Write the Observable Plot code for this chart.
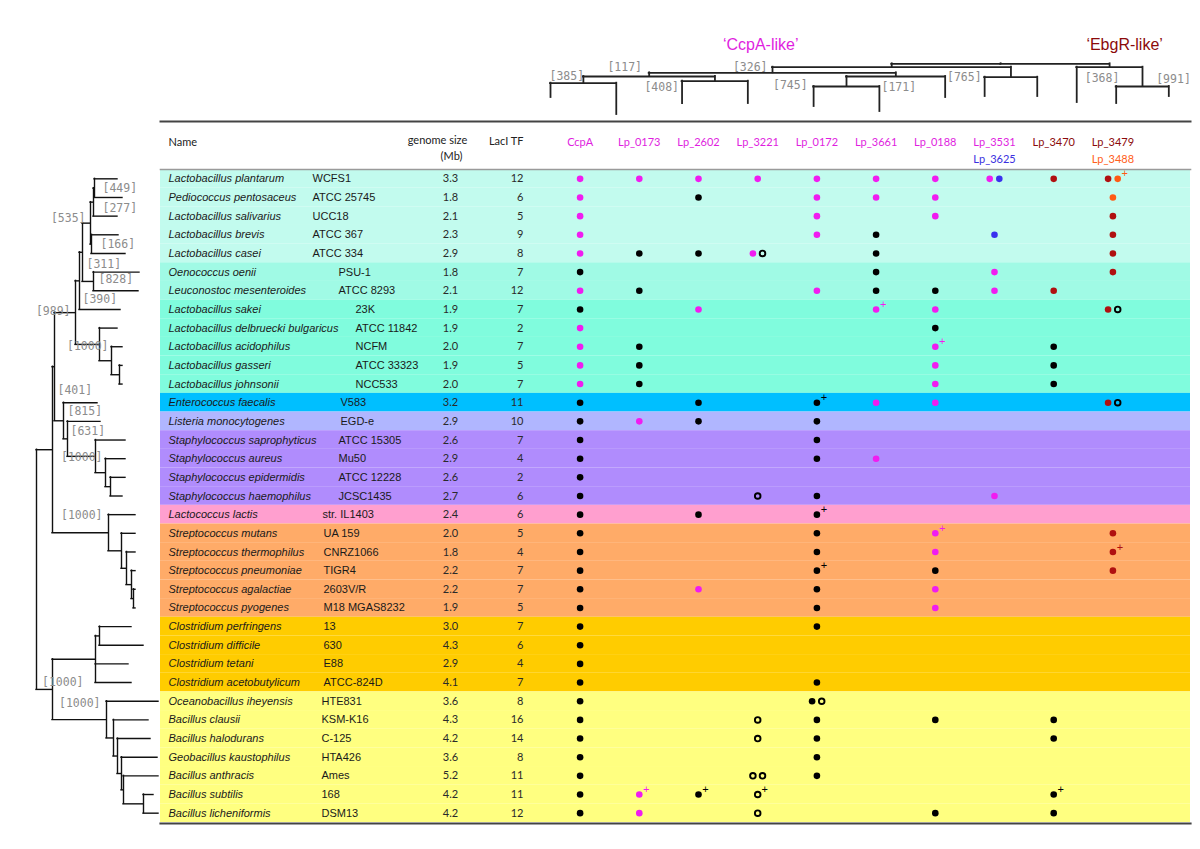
<!DOCTYPE html>
<html>
<head>
<meta charset="utf-8">
<script src="https://cdn.jsdelivr.net/npm/d3@7"></script>
<script src="https://cdn.jsdelivr.net/npm/@observablehq/plot@0.6"></script>
<style>
html, body { margin: 0; padding: 0; background: #ffffff; }
#chart { position: relative; width: 1200px; height: 849px; overflow: hidden; background: #fff; }
#chart svg { position: absolute; left: 0; top: 0; overflow: visible; }
</style>
</head>
<body>
<div id="chart"></div>
<script>
// ---------------- DATA ----------------
const species = [
  "Lactobacillus plantarum", "Pediococcus pentosaceus", "Lactobacillus salivarius", "Lactobacillus brevis",
  "Lactobacillus casei", "Oenococcus oenii", "Leuconostoc mesenteroides", "Lactobacillus sakei",
  "Lactobacillus delbruecki bulgaricus", "Lactobacillus acidophilus", "Lactobacillus gasseri", "Lactobacillus johnsonii",
  "Enterococcus faecalis", "Listeria monocytogenes", "Staphylococcus saprophyticus", "Staphylococcus aureus",
  "Staphylococcus epidermidis", "Staphylococcus haemophilus", "Lactococcus lactis", "Streptococcus mutans",
  "Streptococcus thermophilus", "Streptococcus pneumoniae", "Streptococcus agalactiae", "Streptococcus pyogenes",
  "Clostridium perfringens", "Clostridium difficile", "Clostridium tetani", "Clostridium acetobutylicum",
  "Oceanobacillus iheyensis", "Bacillus clausii", "Bacillus halodurans", "Geobacillus kaustophilus",
  "Bacillus anthracis", "Bacillus subtilis", "Bacillus licheniformis"
];
const strains = [
  "WCFS1", "ATCC 25745", "UCC18", "ATCC 367", "ATCC 334", "PSU-1", "ATCC 8293", "23K",
  "ATCC 11842", "NCFM", "ATCC 33323", "NCC533", "V583", "EGD-e", "ATCC 15305", "Mu50",
  "ATCC 12228", "JCSC1435", "str. IL1403", "UA 159", "CNRZ1066", "TIGR4", "2603V/R", "M18 MGAS8232",
  "13", "630", "E88", "ATCC-824D", "HTE831", "KSM-K16", "C-125", "HTA426", "Ames", "168", "DSM13"
];
const genomeSize = [3.3, 1.8, 2.1, 2.3, 2.9, 1.8, 2.1, 1.9, 1.9, 2.0, 1.9, 2.0, 3.2, 2.9, 2.6, 2.9, 2.6, 2.7,
  2.4, 2.0, 1.8, 2.2, 2.2, 1.9, 3.0, 4.3, 2.9, 4.1, 3.6, 4.3, 4.2, 3.6, 5.2, 4.2, 4.2];
const laciTF = [12, 6, 5, 9, 8, 7, 12, 7, 2, 7, 5, 7, 11, 10, 7, 4, 2, 6, 6, 5, 4, 7, 7, 5, 7, 6, 4, 7,
  8, 16, 14, 8, 11, 11, 12];
// consecutive row groups (name, number of rows)
const groupNames = ["Lactobacillaceae I", "Leuconostocaceae", "Lactobacillaceae II", "Enterococcus", "Listeria",
  "Staphylococcus", "Lactococcus", "Streptococcus", "Clostridium", "Bacillus"];
const groupSizes = [5, 2, 5, 1, 1, 4, 1, 5, 4, 7];

const columns = ["CcpA", "Lp_0173", "Lp_2602", "Lp_3221", "Lp_0172", "Lp_3661", "Lp_0188", "Lp_3531", "Lp_3470", "Lp_3479"];
const columnClass = ["CcpA-like", "CcpA-like", "CcpA-like", "CcpA-like", "CcpA-like", "CcpA-like", "CcpA-like",
  "CcpA-like", "EbgR-like", "EbgR-like"];
const paralogColumns = ["Lp_3531", "Lp_3479"];
const paralogNames = ["Lp_3625", "Lp_3488"];

// cells per row, "|" separated in column order.
// m = magenta, k = black, o = open circle, b = blue (Lp_3625), r = dark red, n = orange (Lp_3488); "+" = plus sign
const calls = [
  "m|m|m|m|m|m|m|mb|r|rn+",
  "m||k||m|m|m|||n",
  "m||||m||m|||r",
  "m||||m|k||b||r",
  "m|k|k|mo||k||||r",
  "k|||||k||m||r",
  "m|k|||m|k|k|m|r|",
  "k||m|||m+|m|||ro",
  "m||||||k|||",
  "m|k|||||m+||k|",
  "m|k|||||m||k|",
  "m|k|||||m||k|",
  "k||k||k+|m|m|||ro",
  "k|m|k||k|||||",
  "k||||k|||||",
  "k||||k|m||||",
  "k|||||||||",
  "k|||o|k|||m||",
  "k||k||k+|||||",
  "k||||k||m+|||r",
  "k||||k||m|||r+",
  "k||||k+||k|||r",
  "k||m||k||m|||",
  "k||||k||m|||",
  "k||||k|||||",
  "k|||||||||",
  "k|||||||||",
  "k||||k|||||",
  "k||||ko|||||",
  "k|||o|k||k||k|",
  "k|||o|k||||k|",
  "k||||k|||||",
  "k|||oo|k|||||",
  "k|m+|k+|o+|||||k+|",
  "k|m||o|||k||k|"
];

// species tree (branch lengths, bootstrap support as node names)
const speciesTree = "(((((((((Lactobacillus_plantarum:23,Pediococcus_pentosaceus:28)449:1,Lactobacillus_salivarius:24)277:3," +
  "(Lactobacillus_brevis:27,Lactobacillus_casei:34)166:1)535:8,(Oenococcus_oenii:46,Leuconostoc_mesenteroides:45)828:11)311:3," +
  "Lactobacillus_sakei:41)390:4,(Lactobacillus_delbruecki_bulgaricus:18,(Lactobacillus_acidophilus:11," +
  "(Lactobacillus_gasseri:3,Lactobacillus_johnsonii:3):8):12)1000:24)989:21," +
  "(Enterococcus_faecalis:34,(Listeria_monocytogenes:33,(Staphylococcus_saprophyticus:30,(Staphylococcus_aureus:20," +
  "(Staphylococcus_epidermidis:15,Staphylococcus_haemophilus:12):5):10)1000:28)631:4)815:9)401:2," +
  "(Lactococcus_lactis:27,(Streptococcus_mutans:14,(Streptococcus_thermophilus:9,(Streptococcus_pneumoniae:4," +
  "(Streptococcus_agalactiae:2,Streptococcus_pyogenes:2):2):5):5):13)1000:56):16," +
  "(((Clostridium_perfringens:32,Clostridium_difficile:44):4,Clostridium_tetani:33,Clostridium_acetobutylicum:36):43," +
  "(Oceanobacillus_iheyensis:52,(Bacillus_clausii:35,(Bacillus_halodurans:33,(Geobacillus_kaustophilus:36," +
  "(Bacillus_anthracis:35,(Bacillus_subtilis:10,Bacillus_licheniformis:15):20):2):4):4):7)1000:54)1000:16);";

// LacI-TF tree
const tfTree = "((((((CcpA:14.3,Lp_0173:31.3)385:6.7,(Lp_2602:22.3,Lp_3221:22.3)408:4.7)117:3.7," +
  "((Lp_0172:20,Lp_3661:25)745:10,Lp_0188:21)171:3.7):5.6,(Lp_3531:19.3,Lp_3625:19.3)765:10)326:3.4," +
  "(Lp_3470:35.3,(Lp_3479:17,Lp_3488:10)991:19.3)368:3.4);";

// ---------------- STYLE ----------------
const groupStyle = {
  "Lactobacillaceae I":  {fill: "#c2fbee", strainDx: 152},
  "Leuconostocaceae":    {fill: "#a0fae5", strainDx: 178},
  "Lactobacillaceae II": {fill: "#80fcdd", strainDx: 195},
  "Enterococcus":        {fill: "#00bfff", strainDx: 180},
  "Listeria":            {fill: "#b0b6ff", strainDx: 180},
  "Staphylococcus":      {fill: "#b08cfd", strainDx: 178},
  "Lactococcus":         {fill: "#ff9fcf", strainDx: 162},
  "Streptococcus":       {fill: "#ffab68", strainDx: 163},
  "Clostridium":         {fill: "#ffcc00", strainDx: 163},
  "Bacillus":            {fill: "#ffff80", strainDx: 161}
};
const symColor = {m: "#f01cf0", k: "#000000", o: "#000000", b: "#3a30ee", r: "#b01010", n: "#ff5a14"};
const classColor = {"CcpA-like": "#e01ee0", "EbgR-like": "#8b0a0a"};
const paralogColor = {"Lp_3625": "#3a30e0", "Lp_3488": "#ff6020"};
const sans = "'Liberation Sans', Arial, sans-serif";
const narrow = "Lato, 'Open Sans', sans-serif";
const mono = "'DejaVu Sans Mono', monospace";
const bootColor = "#8c8c8c";

// ---------------- BUILD ----------------
const groupOf = groupNames.flatMap((g, i) => Array(groupSizes[i]).fill(g));
const rows = species.map((s, i) => ({species: s, strain: strains[i], size: genomeSize[i], laci: laciTF[i], group: groupOf[i]}));

const symbols = [];
calls.forEach((line, ri) => {
  line.split("|").forEach((cell, ci) => {
    const plus = cell.endsWith("+");
    const syms = cell.replace("+", "").split("").filter(Boolean);
    syms.forEach((s, k) => symbols.push({species: species[ri], col: columns[ci], sym: s, k, n: syms.length, plus: plus && k === syms.length - 1}));
  });
});

function parseNewick(s) {
  let i = 0;
  function node() {
    const n = {children: []};
    if (s[i] === "(") {
      i++;
      n.children.push(node());
      while (s[i] === ",") { i++; n.children.push(node()); }
      i++;
    }
    let name = "";
    while (i < s.length && !":,);".includes(s[i])) name += s[i++];
    n.name = name;
    n.length = 0;
    if (s[i] === ":") {
      i++;
      let len = "";
      while (i < s.length && !",);".includes(s[i])) len += s[i++];
      n.length = +len;
    }
    return n;
  }
  return node();
}

// species tree layout
const sRoot = d3.hierarchy(parseNewick(speciesTree.replace(";", "")), d => d.children.length ? d.children : null);
sRoot.eachBefore(d => { d.depthLen = d.parent ? d.parent.depthLen + d.data.length : 0; });
sRoot.eachAfter(d => {
  if (!d.children) d.yPos = species.indexOf(d.data.name.replace(/_/g, " "));
  else d.yPos = (d.children[0].yPos + d.children[d.children.length - 1].yPos) / 2;
});
const sH = [], sV = [], sLabels = [];
sRoot.eachBefore(d => {
  if (d.parent) sH.push({x1: d.parent.depthLen, x2: d.depthLen, y: d.yPos});
  if (d.children) {
    sV.push({x: d.depthLen, y1: d.children[0].yPos, y2: d.children[d.children.length - 1].yPos});
    if (d.data.name) sLabels.push({x: d.depthLen, y: d.yPos, label: `[${d.data.name}]`});
  }
});
const maxS = d3.max(sRoot.leaves(), d => d.depthLen);
// label placement (preorder) : anchor, dx, dy
const sLabelPlace = [
  ["start", 3, 24], ["end", -5, -1], ["start", 3, 18], ["start", 4, 12], ["end", -5, -5],
  ["start", 9, 6], ["start", 8, 0], ["start", 9, 0], ["start", 5, -2], ["end", 9, 2],
  ["start", 4, -9], ["start", 3, -8], ["end", 7, 1], ["end", -6, -17], ["end", 31, -7], ["end", -6, -16]
];

// TF tree layout
const tRoot = d3.hierarchy(parseNewick(tfTree.replace(";", "")), d => d.children.length ? d.children : null);
const sideOffset = 0.4;
function leafIndex(name) {
  const pi = paralogNames.indexOf(name);
  if (pi >= 0) return columns.indexOf(paralogColumns[pi]) + sideOffset;
  const ci = columns.indexOf(name);
  return paralogColumns.includes(name) ? ci - sideOffset : ci;
}
tRoot.eachBefore(d => { d.depthLen = d.parent ? d.parent.depthLen + d.data.length : 0; });
tRoot.eachAfter(d => {
  if (!d.children) d.xPos = leafIndex(d.data.name);
  else d.xPos = (d.children[0].xPos + d.children[d.children.length - 1].xPos) / 2;
});
const tH = [], tV = [], tLabels = [];
tRoot.eachBefore(d => {
  if (d.parent) tV.push({x: d.xPos, y1: d.parent.depthLen, y2: d.depthLen});
  if (d.children) {
    const x1 = d.children[0].xPos, x2 = d.children[d.children.length - 1].xPos;
    tH.push({x1, x2, y: d.depthLen});
    if (d.data.name) tLabels.push({x: x1, y: d.depthLen, label: `[${d.data.name}]`});
  }
});
const maxT = d3.max(tRoot.leaves(), d => d.depthLen);
const tLabelPlace = [
  ["end", -5, 0], ["start", 24, -9], ["start", -1, -7], ["end", -3, 6], ["start", 35, 11],
  ["end", -6, -1], ["end", -3, 0], ["start", 8, 11], ["start", 40, -7]
];

// ---------------- GEOMETRY ----------------
const W = 1200, H = 849;
const tableTop = 169, tableBottom = 822, tableLeft = 160, tableRight = 1190;
const colRange = [550, 1142];
const bw = (tableBottom - tableTop) / species.length;

// ---------------- TABLE PLOT ----------------
const symCodes = Object.keys(symColor);
const tableMarks = [
  Plot.cell(rows, {y: "species", fill: "group"}),
  Plot.frame({anchor: "top", stroke: "#9a9a9a", strokeWidth: 1.6}),
  Plot.frame({anchor: "top", stroke: "#444", strokeWidth: 2, dy: -48}),
  Plot.frame({anchor: "bottom", stroke: "#444", strokeWidth: 2.2, dy: 1}),
  Plot.text(rows, {y: "species", text: "species", frameAnchor: "left", dx: 8, textAnchor: "start",
    fontStyle: "italic", fontFamily: sans, fontSize: 11, fill: "#1a1a1a"}),
  ...groupNames.map(g => Plot.text(rows.filter(r => r.group === g), {y: "species", text: "strain", frameAnchor: "left",
    dx: groupStyle[g].strainDx, textAnchor: "start", fontFamily: sans, fontSize: 11, fill: "#1a1a1a"})),
  Plot.text(rows, {y: "species", text: d => d.size.toFixed(1), frameAnchor: "left", dx: 290, textAnchor: "middle",
    fontFamily: narrow, fontSize: 11, fill: "#2a2a2a"}),
  Plot.text(rows, {y: "species", text: "laci", frameAnchor: "left", dx: 363, textAnchor: "end",
    fontFamily: narrow, fontSize: 11, fill: "#2a2a2a"}),
  // headers
  Plot.text(["Name"], {frameAnchor: "top-left", dx: 8, dy: -31, textAnchor: "start", fontFamily: narrow, fontSize: 11, fill: "#222"}),
  Plot.text(["genome size"], {frameAnchor: "top-left", dx: 277, dy: -33, textAnchor: "middle", fontFamily: narrow, fontSize: 11, fill: "#222"}),
  Plot.text(["(Mb)"], {frameAnchor: "top-left", dx: 291, dy: -17, textAnchor: "middle", fontFamily: narrow, fontSize: 11, fill: "#222"}),
  Plot.text(["LacI TF"], {frameAnchor: "top-left", dx: 363, dy: -32, textAnchor: "end", fontFamily: narrow, fontSize: 11, fill: "#222"}),
  Plot.text(columns, {x: d => d, text: d => d, frameAnchor: "top", dy: -31, fontFamily: narrow, fontSize: 11,
    fill: (d, i) => classColor[columnClass[i]]}),
  Plot.text(paralogNames, {x: (d, i) => paralogColumns[i], text: d => d, frameAnchor: "top", dy: -14,
    fontFamily: narrow, fontSize: 11, fill: d => paralogColor[d]})
];
const placements = [[1, 0, 0], [2, 0, -4.8], [2, 1, 4.8]];
for (const [n, k, dx] of placements) {
  const sub = symbols.filter(d => d.n === n && d.k === k);
  tableMarks.push(Plot.dot(sub.filter(d => d.sym !== "o"), {x: "col", y: "species", r: 3.3, fill: "sym", dx}));
  tableMarks.push(Plot.dot(sub.filter(d => d.sym === "o"), {x: "col", y: "species", r: 2.8, stroke: "sym", strokeWidth: 1.9, fill: "none", dx}));
  tableMarks.push(Plot.text(sub.filter(d => d.plus), {x: "col", y: "species", text: () => "+", fill: "sym",
    dx: dx + 7, dy: -5, fontSize: 11, fontFamily: sans}));
}

const tablePlot = Plot.plot({
  width: W, height: H,
  marginTop: tableTop, marginBottom: H - tableBottom, marginLeft: tableLeft, marginRight: W - tableRight,
  x: {type: "point", domain: columns, range: colRange, round: false, axis: null},
  y: {type: "band", domain: species, padding: 0, round: false, axis: null},
  color: {type: "ordinal", domain: [...groupNames, ...symCodes],
    range: [...groupNames.map(g => groupStyle[g].fill), ...symCodes.map(s => symColor[s])]},
  style: {background: "transparent", fontFamily: sans},
  marks: tableMarks
});

// ---------------- SPECIES TREE PLOT ----------------
const treePlot = Plot.plot({
  width: W, height: H, margin: 0,
  x: {type: "linear", domain: [0, maxS], range: [36, 36 + maxS], axis: null},
  y: {type: "linear", domain: [0, species.length - 1], range: [tableTop + bw / 2, tableBottom - bw / 2], axis: null},
  style: {background: "transparent"},
  marks: [
    Plot.ruleY(sH, {y: "y", x1: "x1", x2: "x2", stroke: "#111", strokeWidth: 1.4, strokeLinecap: "square"}),
    Plot.ruleX(sV, {x: "x", y1: "y1", y2: "y2", stroke: "#111", strokeWidth: 1.4, strokeLinecap: "square"}),
    ...sLabels.map((l, i) => Plot.text([l], {x: "x", y: "y", text: "label", textAnchor: sLabelPlace[i][0],
      dx: sLabelPlace[i][1], dy: sLabelPlace[i][2], fontFamily: mono, fontSize: 11.5, fill: bootColor}))
  ]
});

// ---------------- TF TREE PLOT ----------------
const classes = ["CcpA-like", "EbgR-like"];
const classCenter = classes.map(c => d3.mean(columns.map((d, i) => i).filter(i => columnClass[i] === c)));
const titleShift = [-20, 15];
const tfPlot = Plot.plot({
  width: W, height: H, margin: 0,
  x: {type: "linear", domain: [0, columns.length - 1], range: colRange, axis: null},
  y: {type: "linear", domain: [0, maxT], range: [63.3, 63.3 + maxT], axis: null},
  style: {background: "transparent"},
  marks: [
    Plot.ruleY(tH, {y: "y", x1: "x1", x2: "x2", stroke: "#222", strokeWidth: 1.8, strokeLinecap: "square"}),
    Plot.ruleX(tV, {x: "x", y1: "y1", y2: "y2", stroke: "#222", strokeWidth: 1.8, strokeLinecap: "square"}),
    ...tLabels.map((l, i) => Plot.text([l], {x: "x", y: "y", text: "label", textAnchor: tLabelPlace[i][0],
      dx: tLabelPlace[i][1], dy: tLabelPlace[i][2], fontFamily: mono, fontSize: 11.5, fill: bootColor})),
    ...classes.map((c, i) => Plot.text([c], {x: () => classCenter[i], text: d => `\u2018${d}\u2019`, frameAnchor: "top",
      dy: 38, dx: titleShift[i], fontFamily: sans, fontSize: 16, fill: classColor[c]}))
  ]
});

const chart = document.getElementById("chart");
chart.append(tablePlot, treePlot, tfPlot);
</script>
</body>
</html>
